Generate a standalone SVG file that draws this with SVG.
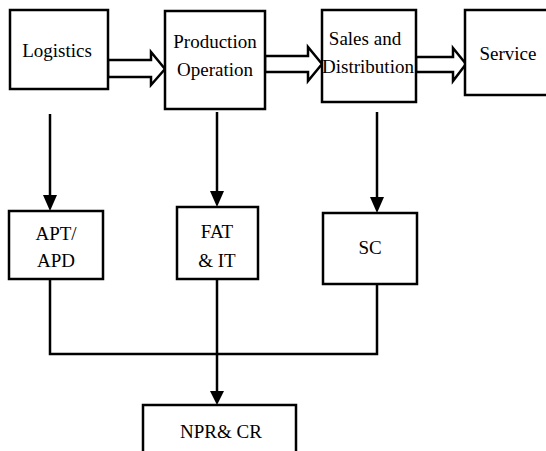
<svg xmlns="http://www.w3.org/2000/svg" width="546" height="451" viewBox="0 0 546 451">
<style>
.box{fill:#fff;stroke:#000;stroke-width:2.5}
.lbl{font-family:'Liberation Serif','DejaVu Serif',serif;font-size:19px;fill:#000;text-anchor:middle}
.ln{fill:none;stroke:#000;stroke-width:2.5}
.fat{fill:#fff;stroke:#000;stroke-width:2.5;stroke-linejoin:miter}
.head{fill:#000;stroke:none}
</style>
<rect width="546" height="451" fill="#fff"/>
<g id="connectors">
<polygon class="fat" points="108,60 151,60 151,52 165,69 151,85 151,77 108,77"/>
<polygon class="fat" points="265,56 308,56 308,47 322,64 308,81 308,72 265,72"/>
<polygon class="fat" points="416,57 453,57 453,48 466,64 453,81 453,72 416,72"/>
<line class="ln" x1="50" y1="114" x2="50" y2="197"/>
<polygon class="head" points="43,195 57,195 50,211"/>
<line class="ln" x1="217" y1="112" x2="217" y2="193"/>
<polygon class="head" points="210,191 224,191 217,207"/>
<line class="ln" x1="377" y1="112" x2="377" y2="199"/>
<polygon class="head" points="370,197 384,197 377,213"/>
<polyline class="ln" points="50,279 50,354 377,354 377,284"/>
<line class="ln" x1="217" y1="279" x2="217" y2="393"/>
<polygon class="head" points="210,391 224,391 217,405"/>
</g>
<g id="logistics">
<rect class="box" x="10" y="10" width="98" height="79"/>
<text class="lbl" x="57" y="57">Logistics</text>
</g>
<g id="production">
<rect class="box" x="165" y="11" width="100" height="98"/>
<text class="lbl" x="215" y="48">Production</text>
<text class="lbl" x="215" y="76">Operation</text>
</g>
<g id="sales">
<rect class="box" x="322" y="10" width="94" height="92"/>
<text class="lbl" x="365" y="45">Sales and</text>
<text class="lbl" x="368" y="73">Distribution</text>
</g>
<g id="service">
<rect class="box" x="465" y="10" width="90" height="85"/>
<text class="lbl" x="508" y="60">Service</text>
</g>
<g id="apt">
<rect class="box" x="9" y="211" width="94" height="68"/>
<text class="lbl" x="56" y="240">APT/</text>
<text class="lbl" x="56" y="267">APD</text>
</g>
<g id="fat">
<rect class="box" x="177" y="207" width="81" height="72"/>
<text class="lbl" x="217" y="238">FAT</text>
<text class="lbl" x="217" y="267">&amp; IT</text>
</g>
<g id="sc">
<rect class="box" x="323" y="213" width="94" height="71"/>
<text class="lbl" x="370" y="254">SC</text>
</g>
<g id="npr">
<rect class="box" x="143" y="405" width="153" height="60"/>
<text class="lbl" x="221" y="438">NPR&amp; CR</text>
</g>
</svg>
